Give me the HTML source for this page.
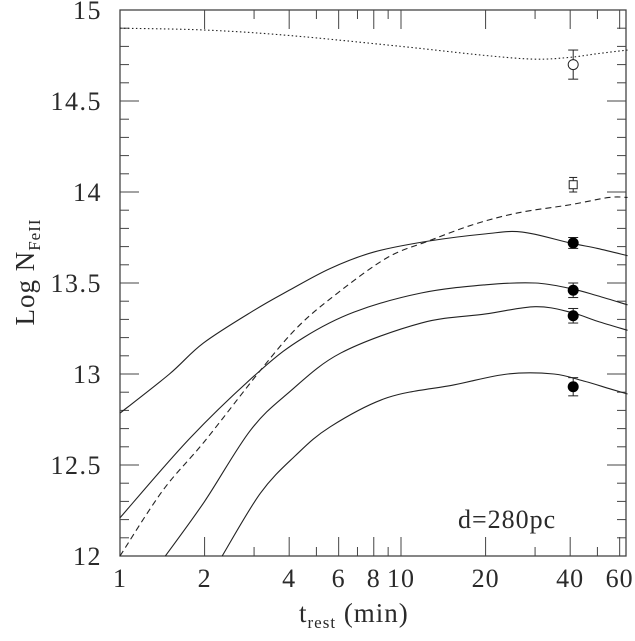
<!DOCTYPE html>
<html><head><meta charset="utf-8"><style>
body{margin:0;background:#fff}
svg text{font-family:"Liberation Serif",serif;fill:#2a2a2a}
</style></head><body>
<svg width="635" height="636" viewBox="0 0 635 636" xmlns="http://www.w3.org/2000/svg">
<g id="g"></g>
</svg>
<script>
const xMajorTicks=[1,2,4,6,8,10,20,40,60];
const xLabels=["1","2","4","6","8","10","20","40","60"];
const xMinorTicks=[3,5,7,9,30,50];
const yMajorTicks=[12,12.5,13,13.5,14,14.5,15];
const yLabels=["12","12.5","13","13.5","14","14.5","15"];
const tSolid1=[1,1.5,1.98,3,4,5.6,8,12.5,20,27,40,50,64];
const vSolid1=[12.785,13.0,13.17,13.35,13.46,13.58,13.67,13.73,13.77,13.78,13.72,13.69,13.65];
const tSolid2=[1,1.78,3.16,4.5,6.8,11.8,20,30,40,50,64];
const vSolid2=[12.21,12.65,13.02,13.2,13.34,13.445,13.49,13.5,13.47,13.43,13.38];
const tSolid3=[1.45,2,2.91,4,6.1,11.8,20,30,40,50,64];
const vSolid3=[12.0,12.3,12.69,12.9,13.115,13.28,13.33,13.37,13.34,13.29,13.24];
const tSolid4=[2.31,3.16,4.2,5.6,8.95,15.4,24,35,45,55,64];
const vSolid4=[12.0,12.345,12.55,12.71,12.87,12.94,13.0,13.0,12.96,12.92,12.89];
const tDashed=[1,1.42,2,3.16,4.3,5.95,8.95,12.5,18,26,40,55,64];
const vDashed=[12.0,12.36,12.63,13.02,13.26,13.445,13.64,13.73,13.82,13.885,13.93,13.97,13.97];
const tDotted=[1,2,4,10,20,30,40,50,64];
const vDotted=[14.9,14.89,14.86,14.8,14.75,14.73,14.74,14.76,14.78];
const obsT=[41,41,41,41];
const obsFilled=[13.72,13.46,13.32,12.93];
const obsFilledErr=[0.03,0.04,0.04,0.05];
const openCircle=[14.70], openCircleErr=[0.08];
const openSquare=[14.04], openSquareErr=[0.04];

const L=120,R=626,T=10,B=556,yMin=12,yMax=15,decPx=281;
const X=t=>L+Math.log10(t)*decPx;
const Y=v=>B-(v-yMin)/(yMax-yMin)*(B-T);
const NS="http://www.w3.org/2000/svg";
const g=document.getElementById('g');
function el(tag,attrs,name,inter){const e=document.createElementNS(NS,tag);for(const k in attrs)e.setAttribute(k,attrs[k]);


g.appendChild(e);return e;}
el('rect',{x:L,y:T,width:R-L,height:B-T,fill:'none',stroke:'#444','stroke-width':1.3},'plot-frame');
xMajorTicks.forEach((t,i)=>{const x=X(t);
el('line',{x1:x,x2:x,y1:B,y2:B-19,stroke:'#444'},'x-major-tick');
el('line',{x1:x,x2:x,y1:T,y2:T+19,stroke:'#444'},'x-major-tick-top');
const tx=el('text',{x:x,y:B+31,'font-size':26,'text-anchor':'middle','letter-spacing':1},'x-tick-label');tx.textContent=xLabels[i];});
xMinorTicks.forEach(t=>{const x=X(t);
el('line',{x1:x,x2:x,y1:B,y2:B-9,stroke:'#444'},'x-minor-tick');
el('line',{x1:x,x2:x,y1:T,y2:T+9,stroke:'#444'},'x-minor-tick-top');});
for(let v=12.1;v<15;v+=0.1){const y=Y(v);
el('line',{x1:L,x2:L+9,y1:y,y2:y,stroke:'#444'},'y-minor-tick');
el('line',{x1:R,x2:R-9,y1:y,y2:y,stroke:'#444'},'y-minor-tick-right');}
yMajorTicks.forEach((v,i)=>{const y=Y(v);
el('line',{x1:L,x2:L+19,y1:y,y2:y,stroke:'#444'},'y-major-tick');
el('line',{x1:R,x2:R-19,y1:y,y2:y,stroke:'#444'},'y-major-tick-right');
const tx=el('text',{x:102,y:y+9,'font-size':26,'text-anchor':'end','letter-spacing':1.5},'y-tick-label');tx.textContent=yLabels[i];});
function path(ts,vs){const p=ts.map((t,i)=>[X(t),Y(vs[i])]);let d='M'+p[0][0]+','+p[0][1];
for(let i=0;i<p.length-1;i++){const p0=p[i-1]||p[i],p1=p[i],p2=p[i+1],p3=p[i+2]||p2;
d+=' C'+(p1[0]+(p2[0]-p0[0])/6)+','+(p1[1]+(p2[1]-p0[1])/6)+' '+(p2[0]-(p3[0]-p1[0])/6)+','+(p2[1]-(p3[1]-p1[1])/6)+' '+p2[0]+','+p2[1];}return d;}
el('path',{d:path(tSolid1,vSolid1),fill:'none',stroke:'#222','stroke-width':1.1},'model-curve-1');
el('path',{d:path(tSolid2,vSolid2),fill:'none',stroke:'#222','stroke-width':1.1},'model-curve-2');
el('path',{d:path(tSolid3,vSolid3),fill:'none',stroke:'#222','stroke-width':1.1},'model-curve-3');
el('path',{d:path(tSolid4,vSolid4),fill:'none',stroke:'#222','stroke-width':1.1},'model-curve-4');
el('path',{d:path(tDashed,vDashed),fill:'none',stroke:'#222','stroke-width':1.1,'stroke-dasharray':'6,4'},'dashed-curve');
el('path',{d:path(tDotted,vDotted),fill:'none',stroke:'#222','stroke-width':1.1,'stroke-dasharray':'1.5,2.5'},'dotted-curve');
function err(t,v,e,w){const x=X(t);el('line',{x1:x,x2:x,y1:Y(v+e),y2:Y(v-e),stroke:'#222'},'error-bar');
[v+e,v-e].forEach(q=>el('line',{x1:x-w,x2:x+w,y1:Y(q),y2:Y(q),stroke:'#222'},'error-cap'));}
obsFilled.forEach((v,i)=>{err(obsT[i],v,obsFilledErr[i],5);el('circle',{cx:X(obsT[i]),cy:Y(v),r:5.5,fill:'#000'},'filled-data-point');});
openCircle.forEach((v,i)=>{err(41,v,openCircleErr[i],5);el('circle',{cx:X(41),cy:Y(v),r:5,fill:'#fff',stroke:'#222'},'open-circle-point');});
openSquare.forEach((v,i)=>{err(41,v,openSquareErr[i],4);el('rect',{x:X(41)-4,y:Y(v)-4,width:8,height:8,fill:'#fff',stroke:'#222'},'open-square-point');});
</script>
<svg style="position:absolute;left:0;top:0" width="635" height="636">
<text x="458" y="528" font-size="26" letter-spacing="1">d=280pc</text>
<text x="299" y="622" font-size="27" letter-spacing="1">t<tspan font-size="17" dy="6">rest</tspan><tspan dy="-6"> (min)</tspan></text>
<text transform="translate(34,272) rotate(-90)" font-size="27" text-anchor="middle" letter-spacing="1">Log N<tspan font-size="17" dy="6">FeII</tspan></text>
</svg>
</body></html>
